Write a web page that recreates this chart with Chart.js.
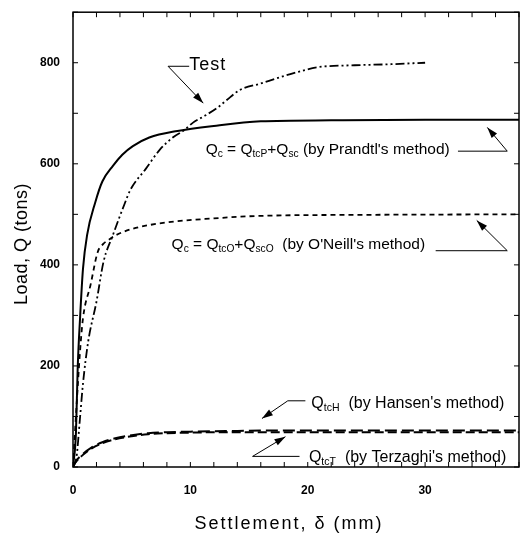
<!DOCTYPE html>
<html>
<head>
<meta charset="utf-8">
<script src="https://cdn.jsdelivr.net/npm/chart.js@4.4.1/dist/chart.umd.min.js"></script>
<style>
  html, body { margin: 0; padding: 0; background: #fff; }
  #wrap { width: 523px; height: 538px; }
</style>
</head>
<body>
<div id="wrap"><canvas id="loadChart" width="523" height="538"></canvas></div>
<script>
/* ---------- data ---------- */
const testSettle = [0, 0.3, 0.6, 0.85, 1.3, 2.0, 2.6, 3.4, 4.4, 4.9, 6.2, 7.4, 8.5, 9.5, 10.2, 11.3, 12.3, 13.4, 14.2, 16, 17.6, 19.2, 20.8, 24, 27, 30];
const testLoad   = [0, 20, 98, 165, 249, 327, 406, 459, 521, 549, 590, 628, 652, 667, 681, 696, 711, 732, 746, 759, 771, 782, 791, 795, 797, 800];

const prandtlSettle = [0, 0.25, 0.4, 0.6, 0.85, 1.2, 1.9, 2.5, 3.4, 4.2, 5.1, 6.5, 8.9, 12, 16, 22, 30, 38];
const prandtlLoad   = [0, 67, 196, 294, 392, 459, 524, 565, 596, 618, 635, 652, 665, 675, 684, 686, 687, 687];

const oneillSettle = [0, 0.3, 0.6, 0.85, 1.5, 2.1, 2.6, 3.0, 3.6, 5, 8, 12, 16, 25, 38];
const oneillLoad   = [0, 120, 229, 294, 361, 425, 442, 449, 458, 471, 484, 492, 497, 499, 500];

const hansenSettle = [0, 0.15, 0.8, 1.6, 2.5, 3.6, 5, 6.4, 8, 10, 13, 16, 25, 38];
const hansenLoad   = [0, 8, 25, 39, 49, 57, 63, 67, 69, 70, 71, 72, 72, 72];

const terzaghiSettle = [0, 0.15, 0.8, 1.6, 2.5, 3.6, 5, 6.4, 8, 10, 13, 16, 25, 38];
const terzaghiLoad   = [0, 7, 23, 37, 47, 55, 61, 65, 67, 68, 69, 69, 69, 69];

const xTickLabels = [0, 10, 20, 30];
const yTickLabels = [0, 200, 400, 600, 800];

const pts = (xs, ys) => xs.map((x, i) => ({ x: x, y: ys[i] }));

const FONT = "'Liberation Sans', Arial, Helvetica, sans-serif";

/* ---------- annotation helpers ---------- */
function richText(ctx, x, y, parts, size) {
  let cx = x;
  parts.forEach(p => {
    const sub = p[1];
    ctx.font = sub ? (size * 0.66) + "px " + FONT : size + "px " + FONT;
    ctx.fillText(p[0], cx, sub ? y + 4 : y);
    cx += ctx.measureText(p[0]).width;
  });
}

function arrowHead(ctx, fx, fy, tx, ty) {
  const a = Math.atan2(ty - fy, tx - fx);
  const len = 11, w = 3.5;
  ctx.beginPath();
  ctx.moveTo(tx, ty);
  ctx.lineTo(tx - len * Math.cos(a) + w * Math.sin(a), ty - len * Math.sin(a) - w * Math.cos(a));
  ctx.lineTo(tx - len * Math.cos(a) - w * Math.sin(a), ty - len * Math.sin(a) + w * Math.cos(a));
  ctx.closePath();
  ctx.fill();
}

// leader: polyline in data units, last point gets the arrow head
const notes = [
  { at: [9.9, 795], parts: [["Test"]], size: 18, plain: true, leader: [[9.9, 793], [8.1, 793], [11.1, 720]] },
  { at: [11.3, 627], size: 15.5, parts: [["Q"], ["c", 1], [" = Q"], ["tcP", 1], ["+Q"], ["sc", 1], [" (by Prandtl's method)"]],
    leader: [[32.8, 625], [37.0, 625], [35.3, 672]] },
  { at: [8.4, 439], size: 15.5, parts: [["Q"], ["c", 1], [" = Q"], ["tcO", 1], ["+Q"], ["scO", 1], ["  (by O'Neill's method)"]],
    leader: [[30.9, 428], [37.0, 428], [34.4, 488]] },
  { at: [20.3, 125], size: 16, parts: [["Q"], ["tcH", 1], ["  (by Hansen's method)"]],
    leader: [[19.8, 131], [18.3, 131], [16.1, 96]] },
  { at: [20.1, 18], size: 16, parts: [["Q"], ["tcT", 1], ["  (by Terzaghi's method)"]],
    leader: [[19.3, 21], [15.3, 21], [18.1, 60]] }
];

const framePlugin = {
  id: "frame",
  afterDraw(chart) {
    const ctx = chart.ctx;
    const a = chart.chartArea;
    const xs = chart.scales.x, ys = chart.scales.y;
    ctx.save();
    ctx.strokeStyle = "#000";
    ctx.fillStyle = "#000";

    // box
    ctx.lineWidth = 1.5;
    ctx.strokeRect(a.left, a.top, a.right - a.left, a.bottom - a.top);

    // inward ticks
    ctx.lineWidth = 1;
    ctx.beginPath();
    for (let v = 0; v <= 38; v += 2) {
      const px = xs.getPixelForValue(v);
      ctx.moveTo(px, a.bottom); ctx.lineTo(px, a.bottom - 5);
      ctx.moveTo(px, a.top); ctx.lineTo(px, a.top + 5);
    }
    for (let v = 0; v <= 900; v += 100) {
      const py = ys.getPixelForValue(v);
      ctx.moveTo(a.left, py); ctx.lineTo(a.left + 5, py);
      ctx.moveTo(a.right, py); ctx.lineTo(a.right - 5, py);
    }
    ctx.stroke();

    // axis titles
    ctx.font = "18px " + FONT;
    ctx.textAlign = "center";
    ctx.textBaseline = "middle";
    ctx.letterSpacing = "2px";
    ctx.fillText("Settlement, \u03B4 (mm)", 289, 524);
    ctx.letterSpacing = "0.5px";
    ctx.save();
    ctx.translate(22, 244);
    ctx.rotate(-Math.PI / 2);
    ctx.fillText("Load, Q (tons)", 0, 0);
    ctx.restore();
    ctx.letterSpacing = "0px";

    // annotations
    ctx.textAlign = "left";
    ctx.textBaseline = "middle";
    notes.forEach(n => {
      const tx = xs.getPixelForValue(n.at[0]), ty = ys.getPixelForValue(n.at[1]);
      if (n.plain) {
        ctx.font = n.size + "px " + FONT;
        ctx.letterSpacing = "1px";
        ctx.fillText(n.parts[0][0], tx, ty);
        ctx.letterSpacing = "0px";
      } else {
        richText(ctx, tx, ty, n.parts, n.size);
      }
      const L = n.leader.map(p => [xs.getPixelForValue(p[0]), ys.getPixelForValue(p[1])]);
      ctx.lineWidth = 1;
      ctx.beginPath();
      ctx.moveTo(L[0][0], L[0][1]);
      for (let i = 1; i < L.length; i++) ctx.lineTo(L[i][0], L[i][1]);
      ctx.stroke();
      const k = L.length - 1;
      arrowHead(ctx, L[k - 1][0], L[k - 1][1], L[k][0], L[k][1]);
    });
    ctx.restore();
  }
};

const line = (data, dash, width) => ({
  data: data,
  borderColor: "#000",
  borderWidth: width,
  borderDash: dash,
  pointRadius: 0,
  fill: false,
  cubicInterpolationMode: "monotone"
});

new Chart(document.getElementById("loadChart"), {
  type: "line",
  data: {
    datasets: [
      Object.assign(line(pts(testSettle, testLoad), [9, 3, 2, 3, 2, 3], 1.8), { label: "Test" }),
      Object.assign(line(pts(prandtlSettle, prandtlLoad), [], 2), { label: "Prandtl" }),
      Object.assign(line(pts(oneillSettle, oneillLoad), [5, 4], 1.8), { label: "O'Neill" }),
      Object.assign(line(pts(hansenSettle, hansenLoad), [12, 5], 2), { label: "Hansen" }),
      Object.assign(line(pts(terzaghiSettle, terzaghiLoad), [9, 4], 2), { label: "Terzaghi" })
    ]
  },
  options: {
    responsive: false,
    animation: false,
    layout: { padding: { top: 6, right: 4, left: 0, bottom: 0 } },
    plugins: {
      legend: { display: false },
      tooltip: { enabled: false }
    },
    scales: {
      x: {
        type: "linear",
        min: 0,
        max: 38,
        grid: { display: false },
        border: { display: false },
        afterBuildTicks: s => { s.ticks = xTickLabels.map(v => ({ value: v })); },
        afterFit: s => { s.height = 71; },
        ticks: {
          color: "#000",
          padding: 8,
          maxRotation: 0,
          font: { family: FONT, size: 12, weight: "bold" }
        }
      },
      y: {
        min: 0,
        max: 900,
        grid: { display: false },
        border: { display: false },
        afterBuildTicks: s => { s.ticks = yTickLabels.map(v => ({ value: v })); },
        afterFit: s => { s.width = 73; },
        ticks: {
          color: "#000",
          padding: 5,
          font: { family: FONT, size: 12, weight: "bold" }
        }
      }
    }
  },
  plugins: [framePlugin]
});
</script>
</body>
</html>
